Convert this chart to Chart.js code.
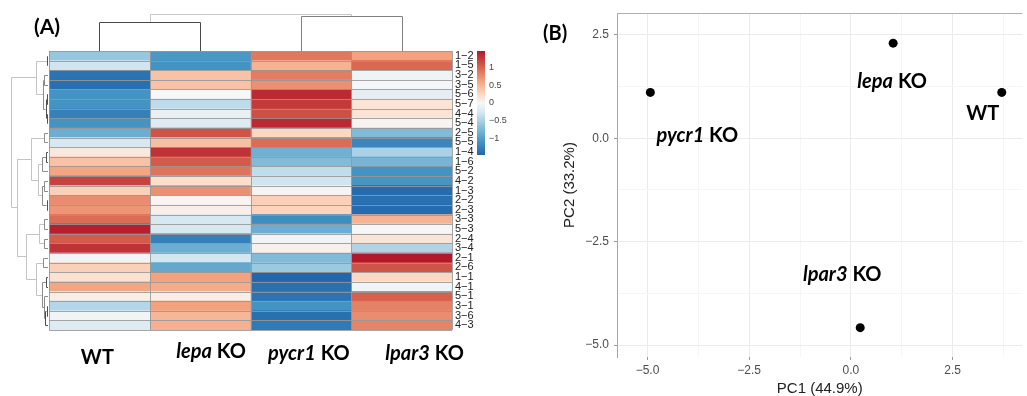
<!DOCTYPE html>
<html>
<head>
<meta charset="utf-8">
<script src="https://cdn.jsdelivr.net/npm/chart.js@4.4.1/dist/chart.umd.min.js"></script>
<style>
  html, body { margin: 0; padding: 0; background: #fff; }
  #wrap { position: relative; width: 1027px; height: 396px; overflow: hidden; }
  #heat { position: absolute; left: 0; top: 0; }
  #pca { position: absolute; left: 520px; top: 0; }
</style>
</head>
<body>
<div id="wrap">
  <canvas id="heat" width="520" height="396"></canvas>
  <canvas id="pca" width="507" height="396"></canvas>
</div>
<script>
// --- panel A: heatmap data ---
const rowLabels = ['1−2','1−5','3−2','3−5','5−6','5−7','4−4','5−4','2−5','5−5','1−4','1−6','5−2','4−2','1−3',
                   '2−2','2−3','3−3','5−3','2−4','3−4','2−1','2−6','1−1','4−1','5−1','3−1','3−6','4−3'];
const samples = ['WT', 'lepa KO', 'pycr1 KO', 'lpar3 KO'];

const wtValues    = [-0.6, -0.3, -1.35, -1.38, -1.1, -1.1, -1.25, -1.1, -0.85, -0.25, 0.12, 0.4, 0.6, 1.2, 0.3,
                     0.75, 0.7, 0.95, 1.42, 1.05, 1.3, -0.05, 0.3, 0.18, 0.6, 0.08, -0.45, -0.05, -0.2];
const lepaValues  = [-1.05, -1.1, 0.4, 0.4, 0.0, -0.4, -0.12, -0.2, 1.1, 0.42, 1.3, 1.05, 0.9, 0.2, 0.72,
                     0.02, 0.07, -0.25, -0.25, -1.25, -0.85, -0.28, -0.9, 0.62, 0.55, 0.08, 0.62, 0.48, 0.52];
const pycr1Values = [0.88, 0.5, 0.85, 0.72, 1.35, 1.25, 1.12, 1.35, 0.25, 0.95, -0.82, -0.72, -0.38, -0.3, 0.03,
                     0.3, 0.27, -1.15, -0.85, -0.05, 0.06, -0.72, -0.58, -1.45, -1.38, -1.35, -1.1, -1.38, -1.3];
const lpar3Values = [0.62, 0.98, -0.07, -0.02, -0.15, 0.15, 0.15, 0.03, -0.72, -1.2, -0.5, -0.78, -1.1, -1.08, -1.42,
                     -1.38, -1.42, 0.5, -0.01, 0.15, -0.47, 1.46, 1.1, 0.25, -0.05, 1.02, 0.82, 0.75, 0.8];
const heatValues = [wtValues, lepaValues, pycr1Values, lpar3Values];

// hclust-style merges: negative = leaf (1-based), positive = earlier merge, third = height
const rowMerges = [
  [-1, -2, 1], [-3, -4, 4], [-5, -6, 1.5], [-7, -8, 1.5], [3, 4, 2.5], [2, 5, 5], [1, 6, 12],
  [-9, -10, 4], [-11, -12, 2], [9, -13, 6], [-14, -15, 4], [-16, -17, 1.5], [11, 12, 6], [10, 13, 10], [8, 14, 17],
  [-18, -19, 4], [-20, -21, 4], [16, 17, 9], [-22, -23, 5], [-24, -25, 2], [-27, -28, 1.5], [21, -29, 3],
  [-26, 22, 4], [20, 23, 6], [19, 24, 12], [18, 25, 22], [15, 26, 31], [7, 27, 37]
];
const colMerges = [[-1, -2, 29], [-3, -4, 35], [1, 2, 37]];

const legendTicks = [1, 0.5, 0, -0.5, -1];
const colorLimits = [-1.46, 1.46];

// --- panel B: PCA data ---
const pcaLabels = ['WT', 'lepa KO', 'pycr1 KO', 'lpar3 KO'];
const pc1 = [3.71, 1.04, -4.93, 0.23];
const pc2 = [1.11, 2.30, 1.11, -4.58];

// RdBu ramp, stops placed along the key
const rampStops = [
  [-1.46, '#2166ac'], [-1.1, '#4393c3'], [-0.62, '#92c5de'], [-0.3, '#d1e5f0'], [0, '#f7f7f7'],
  [0.22, '#fddbc7'], [0.6, '#f4a582'], [1.02, '#d6604d'], [1.46, '#b2182b']
];
const hexRgb = h => [1, 3, 5].map(i => parseInt(h.substr(i, 2), 16));

function heatColor(v) {
  const [lo, hi] = colorLimits;
  v = Math.max(lo, Math.min(hi, v));
  let i = 0;
  while (i < rampStops.length - 2 && v > rampStops[i + 1][0]) i++;
  const [v0, c0] = rampStops[i], [v1, c1] = rampStops[i + 1];
  const f = (v - v0) / (v1 - v0);
  const a = hexRgb(c0), b = hexRgb(c1);
  return 'rgb(' + a.map((c, k) => Math.round(c + (b[k] - c) * f)).join(',') + ')';
}

function treeLinks(merges, leafPos) {
  const nodes = [];
  const ref = r => r < 0 ? { p: leafPos(-r - 1), h: 0 } : nodes[r - 1];
  return merges.map(([a, b, h]) => {
    const A = ref(a), B = ref(b);
    nodes.push({ p: (A.p + B.p) / 2, h: h });
    return { A, B, h };
  });
}

// sample name: gene part in italics, "KO" upright
function drawSampleName(ctx, text, cx, baseY, size) {
  const parts = text.endsWith(' KO') ? [[text.slice(0, -3), 'italic '], [' KO', '']] : [[text, '']];
  const fontOf = st => st + 'bold ' + size + 'px Lato';
  let total = 0;
  parts.forEach(([t, st]) => { ctx.font = fontOf(st); total += ctx.measureText(t).width; });
  let x0 = cx - total / 2;
  ctx.fillStyle = '#000';
  ctx.textAlign = 'left';
  ctx.textBaseline = 'alphabetic';
  parts.forEach(([t, st]) => { ctx.font = fontOf(st); ctx.fillText(t, x0, baseY); x0 += ctx.measureText(t).width; });
}

const crisp = v => Math.round(v) + 0.5;

const heatDecor = {
  id: 'heatDecor',
  afterDatasetsDraw(chart) {
    const { ctx, chartArea: a, scales: { x, y } } = chart;
    const n = rowLabels.length;
    const band = (a.bottom - a.top) / n;
    ctx.save();

    // cell borders
    ctx.strokeStyle = 'rgba(150,150,150,0.85)';
    ctx.lineWidth = 1;
    ctx.beginPath();
    for (let i = 0; i <= n; i++) {
      const py = crisp(y.getPixelForValue(i) - band / 2);
      ctx.moveTo(a.left, py); ctx.lineTo(a.right, py);
    }
    for (let j = 0; j <= samples.length; j++) {
      const px = crisp(x.getPixelForValue(j));
      ctx.moveTo(px, a.top); ctx.lineTo(px, a.bottom);
    }
    ctx.stroke();

    // row dendrogram
    const rowMax = Math.max(...rowMerges.map(m => m[2]));
    const ru = 37 / rowMax;
    const leafX = a.left - 1;
    treeLinks(rowMerges, i => y.getPixelForValue(i)).forEach(({ A, B, h }) => {
      ctx.strokeStyle = h >= 9 ? '#c4c4c4' : (h >= 4 ? '#8c8c8c' : '#505050');
      const xh = crisp(leafX - h * ru);
      ctx.beginPath();
      ctx.moveTo(leafX - A.h * ru, crisp(A.p));
      ctx.lineTo(xh, crisp(A.p));
      ctx.lineTo(xh, crisp(B.p));
      ctx.lineTo(leafX - B.h * ru, crisp(B.p));
      ctx.stroke();
    });

    // column dendrogram
    const colMax = Math.max(...colMerges.map(m => m[2]));
    const cu = 37 / colMax;
    const leafY = a.top;
    treeLinks(colMerges, j => x.getPixelForValue(j + 0.5)).forEach(({ A, B, h }) => {
      ctx.strokeStyle = h >= colMax ? '#c8c8c8' : (h >= 33 ? '#808080' : '#4a4a4a');
      const yh = crisp(leafY - h * cu);
      ctx.beginPath();
      ctx.moveTo(crisp(A.p), leafY - A.h * cu);
      ctx.lineTo(crisp(A.p), yh);
      ctx.lineTo(crisp(B.p), yh);
      ctx.lineTo(crisp(B.p), leafY - B.h * cu);
      ctx.stroke();
    });

    // colour key
    const [lo, hi] = colorLimits;
    const kx = a.right + 25, kw = 8, kTop = a.top, kBot = a.top + 104;
    const grad = ctx.createLinearGradient(0, kTop, 0, kBot);
    for (let s = 0; s <= 40; s++) grad.addColorStop(s / 40, heatColor(hi - (hi - lo) * s / 40));
    ctx.fillStyle = grad;
    ctx.fillRect(kx, kTop, kw, kBot - kTop);
    ctx.fillStyle = '#444';
    ctx.font = '9px "Liberation Sans"';
    ctx.textAlign = 'left';
    ctx.textBaseline = 'middle';
    legendTicks.forEach(v => {
      const py = kTop + (hi - v) / (hi - lo) * (kBot - kTop);
      ctx.fillText(v < 0 ? '\u2212' + Math.abs(v) : String(v), kx + kw + 4, py);
    });

    // sample names under the columns
    const colNudge = [[-2, 34], [11, 28], [8, 30], [23, 30]];
    samples.forEach((s, j) => {
      drawSampleName(ctx, s, x.getPixelForValue(j + 0.5) + colNudge[j][0], a.bottom + colNudge[j][1], 20);
    });

    // panel tag
    ctx.font = 'bold 21px Lato';
    ctx.fillStyle = '#000';
    ctx.textAlign = 'left';
    ctx.textBaseline = 'alphabetic';
    ctx.fillText('(A)', 34, 34);
    ctx.restore();
  }
};

new Chart(document.getElementById('heat'), {
  type: 'bar',
  data: {
    labels: rowLabels,
    datasets: samples.map((s, j) => ({
      label: s,
      data: rowLabels.map(() => 1),
      backgroundColor: heatValues[j].map(heatColor),
      borderWidth: 0,
      barPercentage: 1,
      categoryPercentage: 1
    }))
  },
  options: {
    responsive: false,
    animation: false,
    indexAxis: 'y',
    layout: { padding: { left: 49, top: 51, bottom: 66, right: 0 } },
    plugins: { legend: { display: false }, tooltip: { enabled: false } },
    scales: {
      x: { stacked: true, min: 0, max: samples.length, display: false },
      y: {
        stacked: true,
        position: 'right',
        grid: { display: false, drawTicks: false },
        border: { display: false },
        ticks: { autoSkip: false, padding: 3, color: '#222', font: { family: 'Liberation Sans', size: 11 } },
        afterFit(s) { s.width = 68; }
      }
    }
  },
  plugins: [heatDecor]
});

// --- panel B ---
const isMajor = v => Math.abs(v / 2.5 - Math.round(v / 2.5)) < 1e-6;
const fmt = v => (v < 0 ? '\u2212' : '') + Math.abs(v).toFixed(1);
const gridColor = c => isMajor(c.tick.value) ? '#ebebeb' : '#f6f6f6';
const tickMark = c => isMajor(c.tick.value) ? '#9a9a9a' : 'rgba(0,0,0,0)';

const pcaDecor = {
  id: 'pcaDecor',
  afterDatasetsDraw(chart) {
    const { ctx, chartArea: a } = chart;
    ctx.save();
    ctx.strokeStyle = '#b0b0b0';
    ctx.lineWidth = 1;
    ctx.beginPath();
    ctx.moveTo(a.left, crisp(a.top));
    ctx.lineTo(a.right, crisp(a.top));
    ctx.stroke();

    const nudge = [[-19, 28], [-1, 45], [47, 50], [-18, -47]];
    const pts = chart.getDatasetMeta(0).data;
    pcaLabels.forEach((lab, i) => {
      drawSampleName(ctx, lab, pts[i].x + nudge[i][0], pts[i].y + nudge[i][1], 20);
    });

    ctx.font = 'bold 20px Lato';
    ctx.fillStyle = '#000';
    ctx.textAlign = 'left';
    ctx.textBaseline = 'alphabetic';
    ctx.fillText('(B)', 23, 40);
    ctx.restore();
  }
};

new Chart(document.getElementById('pca'), {
  type: 'scatter',
  data: {
    datasets: [{
      data: pc1.map((v, i) => ({ x: v, y: pc2[i] })),
      backgroundColor: '#000',
      borderWidth: 0,
      pointRadius: 4.5,
      pointHoverRadius: 4.5
    }]
  },
  options: {
    responsive: false,
    animation: false,
    layout: { padding: { top: 13, right: 0, left: 0, bottom: 0 } },
    plugins: { legend: { display: false }, tooltip: { enabled: false } },
    scales: {
      x: {
        type: 'linear', min: -5.75, max: 4.22,
        ticks: { stepSize: 1.25, includeBounds: false, autoSkip: false, maxRotation: 0,
                 callback: v => isMajor(v) ? fmt(v) : '', color: '#4d4d4d', padding: 3,
                 font: { family: 'Liberation Sans', size: 12 } },
        grid: { color: gridColor, tickColor: tickMark, tickLength: 3 },
        border: { display: false },
        title: { display: true, text: 'PC1 (44.9%)', color: '#222', padding: { top: 0, bottom: 0 },
                 font: { family: 'Liberation Sans', size: 15, lineHeight: 1 } },
        afterFit(s) { s.height = 39; }
      },
      y: {
        type: 'linear', min: -5.29, max: 3.03,
        ticks: { stepSize: 1.25, includeBounds: false, autoSkip: false,
                 callback: v => isMajor(v) ? fmt(v) : '', color: '#4d4d4d', padding: 5,
                 font: { family: 'Liberation Sans', size: 12 } },
        grid: { color: gridColor, tickColor: tickMark, tickLength: 3 },
        border: { display: true, color: '#a6a6a6' },
        title: { display: true, text: 'PC2 (33.2%)', color: '#222', padding: { top: 42, bottom: 0 },
                 font: { family: 'Liberation Sans', size: 15, lineHeight: 1 } },
        afterFit(s) { s.width = 97; }
      }
    }
  },
  plugins: [pcaDecor]
});
</script>
</body>
</html>
